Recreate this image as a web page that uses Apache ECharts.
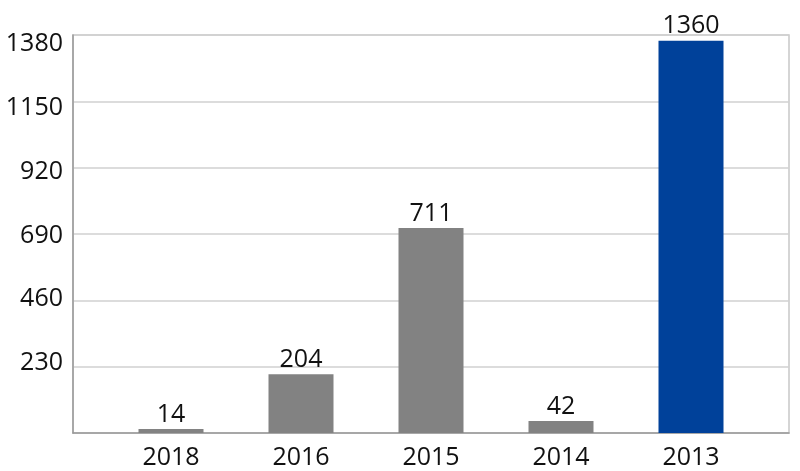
<!DOCTYPE html>
<html><head><meta charset="utf-8">
<script src="https://cdn.jsdelivr.net/npm/echarts@6/dist/echarts.min.js"></script>
<style>html,body{margin:0;padding:0;background:#fff}#c{width:800px;height:471px}</style>
</head><body><div id="c"></div>
<script>
const categories = ['2018', '2016', '2015', '2014', '2013'];
const values = [14, 204, 711, 42, 1360];
const barColors = ['#828282', '#828282', '#828282', '#828282', '#00419A'];
const yTicks = [0, 230, 460, 690, 920, 1150, 1380];

const chart = echarts.init(document.getElementById('c'));
const font = '"Open Sans", sans-serif';
const yMin = yTicks[0], yMax = yTicks[yTicks.length - 1], yStep = yTicks[1] - yTicks[0];
chart.setOption({
  animation: false,
  grid: [
    { left: 73, right: 11, top: 35, bottom: 38, show: true, borderColor: '#c8c8c8', borderWidth: 1.5 },
    { left: 106, right: 44, top: 35, bottom: 38 }
  ],
  xAxis: [
    { type: 'category', gridIndex: 0, data: categories,
      axisLine: { lineStyle: { color: '#999', width: 1.5 } }, axisTick: { show: false }, axisLabel: { show: false } },
    { type: 'category', gridIndex: 1, data: categories,
      axisLine: { show: false }, axisTick: { show: false },
      axisLabel: { color: '#111', fontSize: 25, fontFamily: font, margin: 12 } }
  ],
  yAxis: [
    { type: 'value', gridIndex: 0, min: yMin, max: yMax, interval: yStep, position: 'left',
      axisLine: { show: true, lineStyle: { color: '#999', width: 1.5 } }, axisTick: { show: false },
      splitLine: { lineStyle: { color: '#d0d0d0', width: 1.5 } }, axisLabel: { show: false } },
    { type: 'value', gridIndex: 1, min: yMin, max: yMax, interval: yStep, show: false },
    { type: 'value', gridIndex: 0, min: -21.6, max: 1412.4, position: 'left', offset: 0,
      axisLine: { show: false, onZero: false }, axisTick: { show: false }, splitLine: { show: false },
      axisLabel: { color: '#111', fontSize: 25, fontFamily: font, margin: 10,
        customValues: yTicks.slice(1), formatter: v => String(v) } }
  ],
  series: [{
    type: 'bar', xAxisIndex: 1, yAxisIndex: 1, barWidth: '50%',
    data: values.map((v, i) => ({ value: v, itemStyle: { color: barColors[i] } })),
    label: { show: true, position: 'top', distance: 2, color: '#111', fontSize: 25, fontFamily: font }
  }]
});
</script></body></html>
